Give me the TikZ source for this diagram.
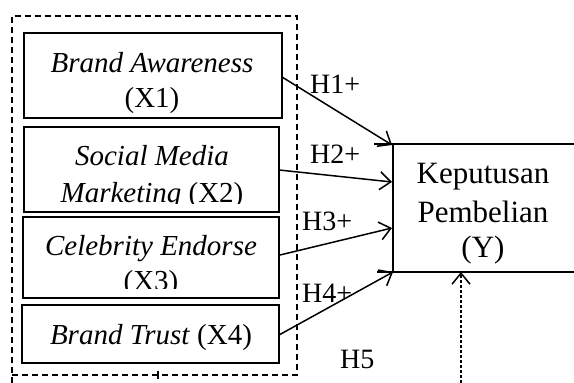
\documentclass[tikz,border=0pt]{standalone}
\usepackage{fontspec}
\setmainfont{Liberation Serif}
\usetikzlibrary{arrows.meta}
\begin{document}
\begin{tikzpicture}[x=1pt,y=-1pt,
 box/.style={draw,line width=2.7pt,inner sep=0pt},
 lbl/.style={anchor=base,inner sep=0pt,font=\fontsize{29}{35}\selectfont},
 hl/.style={anchor=base west,inner sep=0pt,font=\fontsize{28}{32}\selectfont},
 ylbl/.style={anchor=base,inner sep=0pt,font=\fontsize{31}{37}\selectfont},
 arr/.style={line width=1.5pt,-{Straight Barb[length=11pt,width=18pt,line width=1.5pt]}},
 dsh/.style={line width=1.3pt,dash pattern=on 6pt off 4pt},
 ybox/.style={line width=2pt}]
\useasboundingbox (0,0) rectangle (574,383);

% outer dashed group
\draw[dsh] (12,383) -- (12,16) -- (297,16) -- (297,375) -- (12,375);
\coordinate (tk1) at (158,371);
\coordinate (tk2) at (158,379);
\draw[line width=1.3pt] (tk1) -- (tk2);

% boxes
\node[box,minimum width=258pt,minimum height=85pt] (b1) at (153,75.5) {};
\node[box,minimum width=255pt,minimum height=85pt] (b2) at (151.5,169.5) {};
\node[box,minimum width=256pt,minimum height=81pt] (b3) at (151,257.5) {};
\node[box,minimum width=257pt,minimum height=58pt] (b4) at (150.5,334) {};

\node[lbl] (t1a) at (152,72) {\itshape Brand Awareness};
\node[lbl] (t1b) at (152,107) {(X1)};
\node[lbl] (t2a) at (152,165) {\itshape Social Media};
\begin{scope}
\clip (24,150) rectangle (279,203.5);
\node[lbl] (t2b) at (152,202) {\textit{Marketing} (X2)};
\end{scope}
\node[lbl] (t3a) at (151,255) {\itshape Celebrity Endorse};
\begin{scope}
\clip (23,260) rectangle (279,288);
\node[lbl] (t3b) at (151,290) {(X3)};
\end{scope}
\node[lbl] (t4) at (151,344) {\textit{Brand Trust} (X4)};

% Y box
\coordinate (ytl) at (374,144);
\coordinate (ytr) at (574,144);
\coordinate (ybl) at (377,272);
\coordinate (ybr) at (574,272);
\coordinate (yl1) at (393,144);
\coordinate (yl2) at (393,272);
\draw[ybox] (ytl) -- (ytr);
\draw[ybox] (ybl) -- (ybr);
\draw[ybox] (yl1) -- (yl2);
\node[ylbl] (y1) at (483,183) {Keputusan};
\node[ylbl] (y2) at (483,222) {Pembelian};
\node[ylbl] (y3) at (483,257) {(Y)};

% arrows
\coordinate (s1) at (282,77);
\coordinate (e1) at (392,145);
\coordinate (s2) at (279,170);
\coordinate (e2) at (392,182);
\coordinate (s3) at (280,255);
\coordinate (e3) at (392,228);
\coordinate (s4) at (279,335);
\coordinate (e4) at (393,272);
\draw[arr] (s1) -- (e1);
\draw[arr] (s2) -- (e2);
\draw[arr] (s3) -- (e3);
\draw[arr] (s4) -- (e4);

\coordinate (s5) at (461,383);
\coordinate (e5) at (461,272);
\draw[line width=1.3pt,dash pattern=on 3pt off 2pt,-{Straight Barb[length=11pt,width=18pt,line width=1.5pt,sep=0pt]}] (s5) -- (e5);

% labels
\node[hl] (h1) at (310,93) {H1+};
\node[hl] (h2) at (310,163) {H2+};
\node[hl] (h3) at (302,230) {H3+};
\node[hl] (h4) at (302,302) {H4+};
\node[hl] (h5) at (340,368) {H5};
\end{tikzpicture}
\end{document}
